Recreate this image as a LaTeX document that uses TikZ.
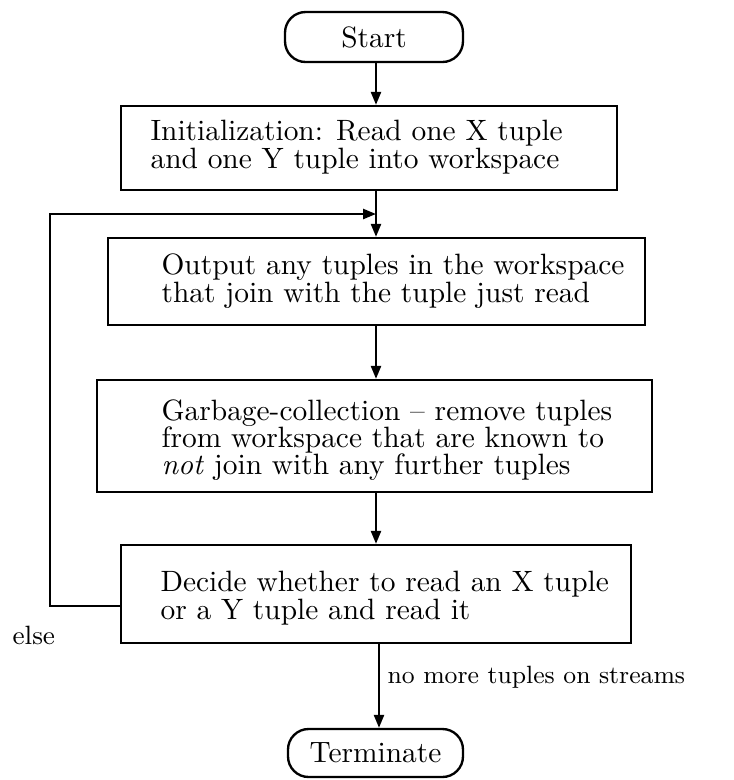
\documentclass[tikz,border=0pt]{standalone}
\usetikzlibrary{arrows.meta}
\newcommand\tightlines{\lineskiplimit=-20pt\relax\lineskip=0pt\relax}
\begin{document}
\begin{tikzpicture}[x=0.34pt,y=-0.34pt,
  every node/.style={inner sep=0pt},
  steptext/.style={anchor=west, align=left,
    font=\fontsize{10}{9.3}\selectfont\tightlines},
  stepbox/.style={draw, line width=0.8pt},
  termbox/.style={draw, line width=0.8pt, rounded corners=7pt,
    font=\fontsize{10}{12}\selectfont},
  lbl/.style={anchor=west, font=\fontsize{9}{11}\selectfont},
  arr/.style={line width=0.8pt, -{Triangle[length=4.4pt,width=3.4pt]}}
]
\useasboundingbox (0,0) rectangle (733,780);

% terminals
\node[termbox, minimum width=60.5pt, minimum height=17pt] (start) at (374,37) {Start};
\node[termbox, minimum width=59.5pt, minimum height=16.32pt] (term) at (375.5,753) {Terminate};

% processing step frames
\node[stepbox, minimum width=168.64pt, minimum height=28.56pt] (init) at (369,148) {};
\node[stepbox, minimum width=182.58pt, minimum height=29.58pt] (out) at (376.5,281.5) {};
\node[stepbox, minimum width=188.7pt, minimum height=38.08pt] (gc) at (374.5,436) {};
\node[stepbox, minimum width=173.4pt, minimum height=33.32pt] (dec) at (376,594) {};

% processing step texts
\node[steptext] (initT) at (150,147)
  {Initialization: Read one X tuple\\and one Y tuple into workspace};
\node[steptext] (outT) at (161,281)
  {Output any tuples in the workspace\\that join with the tuple just read};
\node[steptext] (gcT) at (161,440)
  {Garbage-collection -- remove tuples\\from workspace that are known to\\\emph{not} join with any further tuples};
\node[steptext] (decT) at (160,598)
  {Decide whether to read an X tuple\\or a Y tuple and read it};

% connector guides
\coordinate (ax) at (376,0);
\coordinate (bx) at (379,0);
\coordinate (join) at (376,214);
\coordinate (loopout) at (121,606);
\coordinate (loopbot) at (50,606);
\coordinate (looptop) at (50,214);

% main flow
\draw[arr] (start.south -| ax) -- (init.north -| ax);
\draw[arr] (init.south -| ax) -- (out.north -| ax);
\draw[arr] (out.south -| ax) -- (gc.north -| ax);
\draw[arr] (gc.south -| ax) -- (dec.north -| ax);
\draw[arr] (dec.south -| bx) -- (term.north -| bx);
\node[lbl, font=\fontsize{8.5}{10}\selectfont] (nomore) at (387,677) {no more tuples on streams};

% loop back
\draw[arr] (loopout) -- (loopbot) -- (looptop) -- (join);
\node[lbl] (else) at (12,635) {else};
\end{tikzpicture}
\end{document}
